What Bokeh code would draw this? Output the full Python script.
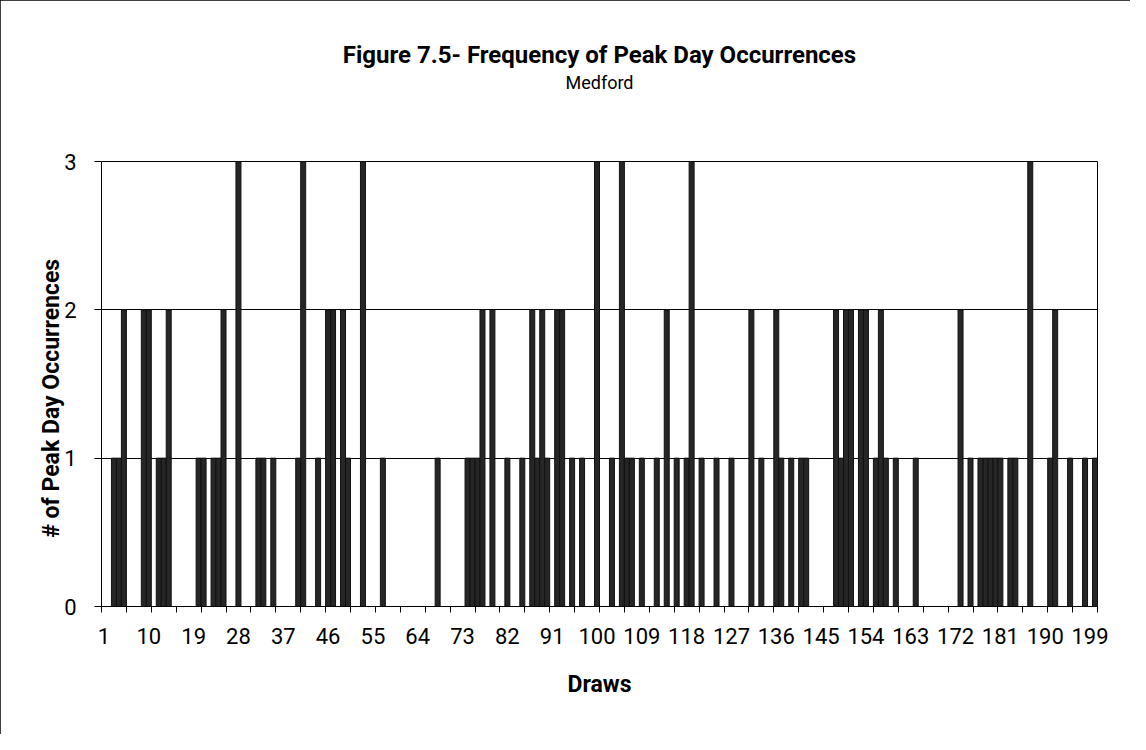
import math
from bokeh.plotting import figure
from bokeh.models import FixedTicker, Range1d, Title, LinearAxis
from bokeh.embed import file_html
from bokeh.resources import INLINE

# ---------------- data ----------------
draws = list(range(1, 201))
peak_counts = [
    0, 0, 1, 1, 2, 0, 0, 0, 2, 2, 0, 1, 1, 2, 0, 0, 0, 0, 0, 1,      # 1-20
    1, 0, 1, 1, 2, 0, 0, 3, 0, 0, 0, 1, 1, 0, 1, 0, 0, 0, 0, 1,      # 21-40
    3, 0, 0, 1, 0, 2, 2, 0, 2, 1, 0, 0, 3, 0, 0, 0, 1, 0, 0, 0,      # 41-60
    0, 0, 0, 0, 0, 0, 0, 1, 0, 0, 0, 0, 0, 1, 1, 1, 2, 0, 2, 0,      # 61-80
    0, 1, 0, 0, 1, 0, 2, 1, 2, 1, 0, 2, 2, 0, 1, 0, 1, 0, 0, 3,      # 81-100
    0, 0, 1, 0, 3, 1, 1, 0, 1, 0, 0, 1, 0, 2, 0, 1, 0, 1, 3, 0,      # 101-120
    1, 0, 0, 1, 0, 0, 1, 0, 0, 0, 2, 0, 1, 0, 0, 2, 1, 0, 1, 0,      # 121-140
    1, 1, 0, 0, 0, 0, 0, 2, 1, 2, 2, 0, 2, 2, 0, 1, 2, 1, 0, 1,      # 141-160
    0, 0, 0, 1, 0, 0, 0, 0, 0, 0, 0, 0, 2, 0, 1, 0, 1, 1, 1, 1,      # 161-180
    1, 0, 1, 1, 0, 0, 3, 0, 0, 0, 1, 2, 0, 0, 1, 0, 0, 1, 0, 1,      # 181-200
]
x_tick_labels = ["1", "10", "19", "28", "37", "46", "55", "64", "73", "82", "91",
                 "100", "109", "118", "127", "136", "145", "154", "163", "172",
                 "181", "190", "199"]
y_ticks = [0, 1, 2, 3]
title_text = "Figure 7.5- Frequency of Peak Day Occurrences"
subtitle_text = "Medford"
x_title = "Draws"
y_title = "# of Peak Day Occurrences"

FONT = "Roboto"

n = len(draws)
p = figure(width=1130, height=734, output_backend="svg", toolbar_location=None,
           x_range=Range1d(0.5, n + 0.5), y_range=Range1d(0, 3),
           x_axis_location=None,
           min_border_left=101, min_border_right=33, min_border_top=161,
           min_border_bottom=128)
p.background_fill_color = "white"
p.border_fill_color = "white"
p.outline_line_color = "black"
p.outline_line_width = 1
p.styles = {"outline": "1px solid black", "outline-offset": "-1px"}

xs = [d for d, c in zip(draws, peak_counts) if c > 0]
tops = [c for c in peak_counts if c > 0]
p.vbar(x=xs, top=tops, width=1.0, fill_color="#262626", line_color="#111111", line_width=1)

# x axis: tick marks every 5 draws (category boundaries)
boundaries = [k + 0.5 for k in range(0, n + 1, 5)]
tick_axis = LinearAxis(ticker=FixedTicker(ticks=boundaries, minor_ticks=[]),
                       major_tick_out=6, major_tick_in=0,
                       major_tick_line_color="black", axis_line_color="black",
                       major_label_text_font_size="0px", major_label_standoff=0,
                       major_label_overrides={b: "" for b in boundaries})
p.add_layout(tick_axis, "below")

# x axis: labels every 9 draws
major_x = [int(s) for s in x_tick_labels]
label_axis = LinearAxis(ticker=FixedTicker(ticks=major_x, minor_ticks=[]),
                        major_tick_out=0, major_tick_in=0,
                        axis_line_color=None,
                        major_label_overrides={v: s for v, s in zip(major_x, x_tick_labels)},
                        major_label_standoff=15,
                        major_label_text_font=FONT,
                        major_label_text_font_size="22px",
                        major_label_text_color="black",
                        axis_label=x_title,
                        axis_label_standoff=24,
                        axis_label_text_font=FONT,
                        axis_label_text_font_size="23px",
                        axis_label_text_font_style="bold",
                        axis_label_text_color="black")
p.add_layout(label_axis, "below")

p.yaxis.ticker = FixedTicker(ticks=y_ticks, minor_ticks=[])
p.yaxis.major_tick_out = 7
p.yaxis.major_tick_in = 0
p.yaxis.minor_tick_out = 0
p.yaxis.minor_tick_in = 0
p.yaxis.major_tick_line_color = "black"
p.yaxis.axis_line_color = "black"
p.yaxis.major_label_standoff = 18
p.yaxis.major_label_text_font = FONT
p.yaxis.major_label_text_font_size = "22px"
p.yaxis.major_label_text_color = "black"
p.yaxis.axis_label = y_title + "\u00a0" * 5
p.yaxis.axis_label_standoff = -4
p.yaxis.axis_label_text_font = FONT
p.yaxis.axis_label_text_font_size = "23px"
p.yaxis.axis_label_text_font_style = "bold"
p.yaxis.axis_label_text_color = "black"

p.xgrid.visible = False
p.ygrid.ticker = FixedTicker(ticks=y_ticks)
p.ygrid.grid_line_color = "black"
p.ygrid.grid_line_width = 1

# titles (spacer closest to the plot, then subtitle, then main title)
p.add_layout(Title(text=" ", text_font_size="1px", standoff=66), "above")
p.add_layout(Title(text=subtitle_text, align="center", text_font=FONT,
                   text_font_size="18px", text_font_style="normal",
                   text_color="black", standoff=0), "above")
p.add_layout(Title(text=title_text, align="center", text_font=FONT,
                   text_font_size="24px", text_font_style="bold",
                   text_color="black", standoff=2), "above")

open("out.html", "w").write(file_html(p, INLINE))
